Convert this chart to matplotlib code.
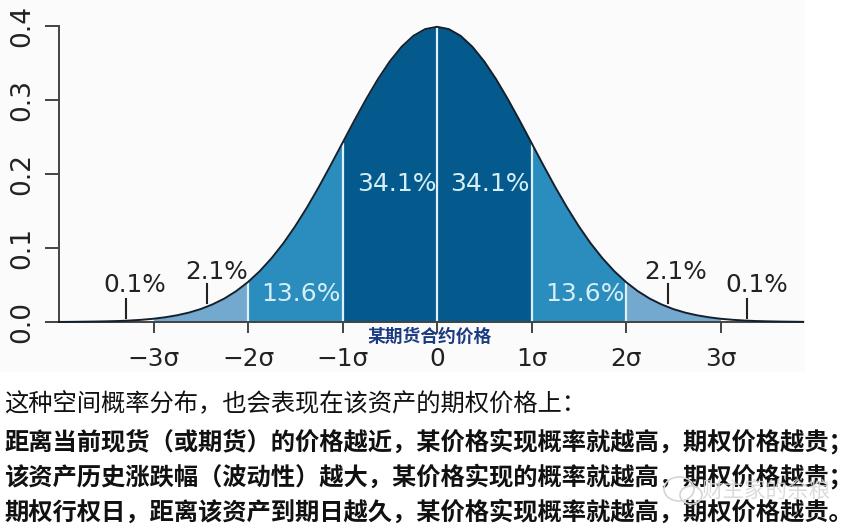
import matplotlib

matplotlib.use("Agg")
import matplotlib.pyplot as plt
from matplotlib.patches import Ellipse, Rectangle
import numpy as np

# density, every eighth of a sigma
sigma = [-4.0, -3.875, -3.75, -3.625, -3.5, -3.375, -3.25, -3.125, -3.0,
         -2.875, -2.75, -2.625, -2.5, -2.375, -2.25, -2.125, -2.0,
         -1.875, -1.75, -1.625, -1.5, -1.375, -1.25, -1.125, -1.0,
         -0.875, -0.75, -0.625, -0.5, -0.375, -0.25, -0.125, 0.0,
         0.125, 0.25, 0.375, 0.5, 0.625, 0.75, 0.875, 1.0,
         1.125, 1.25, 1.375, 1.5, 1.625, 1.75, 1.875, 2.0,
         2.125, 2.25, 2.375, 2.5, 2.625, 2.75, 2.875, 3.0,
         3.125, 3.25, 3.375, 3.5, 3.625, 3.75, 3.875]
density = [0.0001, 0.0002, 0.0004, 0.0006, 0.0009, 0.0013, 0.0020, 0.0030, 0.0044,
           0.0064, 0.0091, 0.0127, 0.0175, 0.0238, 0.0317, 0.0417, 0.0540,
           0.0688, 0.0863, 0.1065, 0.1295, 0.1550, 0.1826, 0.2119, 0.2420,
           0.2721, 0.3011, 0.3282, 0.3521, 0.3719, 0.3867, 0.3958, 0.3989,
           0.3958, 0.3867, 0.3719, 0.3521, 0.3282, 0.3011, 0.2721, 0.2420,
           0.2119, 0.1826, 0.1550, 0.1295, 0.1065, 0.0863, 0.0688, 0.0540,
           0.0417, 0.0317, 0.0238, 0.0175, 0.0127, 0.0091, 0.0064, 0.0044,
           0.0030, 0.0020, 0.0013, 0.0009, 0.0006, 0.0004, 0.0002]

x_ticks = [-3, -2, -1, 0, 1, 2, 3]
x_tick_labels = ["\u22123\u03c3", "\u22122\u03c3", "\u22121\u03c3", "0", "1\u03c3", "2\u03c3", "3\u03c3"]
y_ticks = [0.0, 0.1, 0.2, 0.3, 0.4]

band_edges = [(-3, -2), (-2, -1), (-1, 1), (1, 2), (2, 3)]
band_colors = ["#74a9cf", "#2b8cbe", "#045a8d", "#2b8cbe", "#74a9cf"]
divider_x = [-2, -1, 0, 1, 2]

inner_labels = ["13.6%", "34.1%", "34.1%", "13.6%"]
inner_label_x = [-1.44, -0.42, 0.56, 1.57]
inner_label_y = [0.0385, 0.187, 0.187, 0.0385]

tail_labels = ["0.1%", "2.1%", "2.1%", "0.1%"]
tail_tick_x = [-3.29, -2.43, 2.44, 3.28]
tail_tick_low = [0.005, 0.026, 0.026, 0.005]
tail_tick_high = [0.031, 0.051, 0.051, 0.031]
tail_label_x = [-3.2, -2.33, 2.53, 3.38]
tail_label_y = [0.05, 0.068, 0.068, 0.05]

body_lines = [
    "这种空间概率分布，也会表现在该资产的期权价格上：",
    "距离当前现货（或期货）的价格越近，某价格实现概率就越高，期权价格越贵；",
    "该资产历史涨跌幅（波动性）越大，某价格实现的概率就越高，期权价格越贵；",
    "期权行权日，距离该资产到期日越久，某价格实现概率就越高，期权价格越贵。",
]
body_weights = ["normal", "bold", "bold", "bold"]
body_y = [404.5, 441.5, 476, 512]

W, H = 855, 531
CJK = ["Noto Sans CJK SC", "DejaVu Sans"]
plt.rcParams["font.family"] = ["DejaVu Sans"]


def fx(px):
    return px / W


def fy(py):
    return 1 - py / H


fig = plt.figure(figsize=(W / 100, H / 100), dpi=100, facecolor="white")
fig.patches.append(Rectangle((0, fy(372)), fx(805), 1 - fy(372), transform=fig.transFigure,
                             facecolor="#fbfbfb", edgecolor="none", zorder=-5))

ax = fig.add_axes([fx(59), fy(322), fx(803 - 59), fy(26) - fy(322)])
ax.patch.set_alpha(0)
ax.set_xlim(-4.0, 3.873)
ax.set_ylim(0, 0.4)

xs = np.array(sigma)
ys = np.array(density)
for (lo, hi), col in zip(band_edges, band_colors):
    mask = (xs >= lo) & (xs <= hi)
    ax.fill_between(xs[mask], 0, ys[mask], color=col, linewidth=0, zorder=1)
for d in divider_x:
    ax.plot([d, d], [0, density[sigma.index(d)]], color="#dcf0f5", lw=1.6, zorder=2,
            solid_capstyle="butt")
ax.plot(xs, ys, color="#14202c", lw=1.4, zorder=3, clip_on=False)

for tx, lo, hi in zip(tail_tick_x, tail_tick_low, tail_tick_high):
    ax.plot([tx, tx], [lo, hi], color="#222222", lw=1.5, zorder=4)
for s, lx, ly in zip(tail_labels, tail_label_x, tail_label_y):
    ax.text(lx, ly, s, fontsize=17.8, color="#222222", ha="center", va="center")
for s, lx, ly in zip(inner_labels, inner_label_x, inner_label_y):
    ax.text(lx, ly, s, fontsize=18, color="#d5eef5", ha="center", va="center", zorder=5)

for name in ("top", "right"):
    ax.spines[name].set_visible(False)
for name in ("left", "bottom"):
    ax.spines[name].set_color("#444444")
    ax.spines[name].set_linewidth(1.4)
ax.set_xticks(x_ticks)
ax.set_xticklabels(x_tick_labels, fontsize=17.8, color="#222222")
ax.set_yticks(y_ticks)
ax.set_yticklabels([f"{v:.1f}" for v in y_ticks], fontsize=19, color="#222222",
                   rotation=90, va="center")
ax.tick_params(axis="x", length=8, width=1.4, color="#444444", pad=10)
ax.tick_params(axis="y", length=10, width=1.4, color="#444444", pad=7)

fig.text(fx(429.5), fy(337), "某期货合约价格", family=CJK, fontsize=12.8, fontweight="bold",
         color="#1c3a82", ha="center", va="center")

for line, weight, py in zip(body_lines, body_weights, body_y):
    fig.text(fx(4), fy(py), line, family=CJK, fontsize=17.5, fontweight=weight,
             color="#111111", ha="left", va="center")

# watermark over the bottom right corner
fig.text(fx(766), fy(491), "财主家的余粮", family=CJK, fontsize=15.5, color="#d5d5d5",
         alpha=0.85, ha="center", va="center")
for cx, cy, rx, ry in [(679, 489, 15, 12), (691, 495, 11, 9)]:
    fig.patches.append(Ellipse((fx(cx), fy(cy)), 2 * rx / W, 2 * ry / H, transform=fig.transFigure,
                               facecolor="none", edgecolor="#d5d5d5", lw=1.2, zorder=6))

fig.savefig("out.png", dpi=100)
